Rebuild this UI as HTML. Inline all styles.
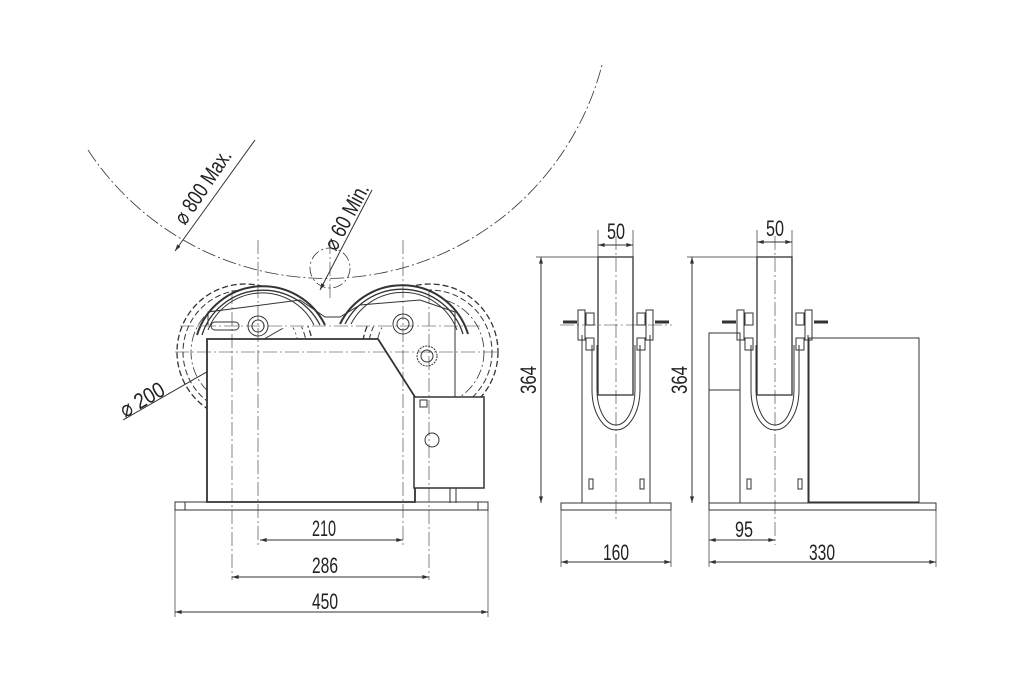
<!DOCTYPE html>
<html><head><meta charset="utf-8"><style>
html,body{margin:0;padding:0;background:#fff;}
svg{display:block}
text{font-family:"Liberation Sans",sans-serif;font-size:22px;fill:#222;}
</style></head><body>
<svg width="1024" height="683" viewBox="0 0 1024 683" xmlns="http://www.w3.org/2000/svg">
<defs>
<marker id="a" viewBox="0 0 10 6" refX="10" refY="3" markerWidth="8" markerHeight="4" orient="auto-start-reverse"><path d="M0,0L10,3L0,6z" fill="#333"/></marker>
</defs>
<g fill="none" stroke="#333" stroke-width="1">
<path d="M88,150 A285,285 0 0 0 602,65" stroke-dasharray="14,3,2,3" stroke-width="0.8"/>
<line x1="175" y1="251" x2="255" y2="140" marker-start="url(#a)"/>
<circle cx="330" cy="268" r="20" stroke-dasharray="10,3,2,3" stroke-width="0.8"/>
<line x1="320" y1="290" x2="372" y2="190" marker-start="url(#a)"/>
<line x1="123" y1="420" x2="292" y2="323"/>
<!-- dashed lower wheels -->
<circle cx="245" cy="352" r="68" stroke-dasharray="6,3" stroke-width="1.3"/>
<circle cx="245" cy="352" r="62" stroke-dasharray="6,3"/>
<circle cx="245" cy="352" r="54" stroke-dasharray="10,3,2,3" stroke-width="0.8"/>
<circle cx="430" cy="352" r="68" stroke-dasharray="6,3" stroke-width="1.3"/>
<circle cx="430" cy="352" r="62" stroke-dasharray="6,3"/>
<circle cx="430" cy="352" r="54" stroke-dasharray="10,3,2,3" stroke-width="0.8"/>
<!-- upper wheels -->
<path d="M197,335 A69,69 0 0 1 325,325" stroke-width="2" fill="#fff"/>
<path d="M202,335 A64,64 0 0 1 320,325" stroke-width="1.3"/>
<path d="M208,330 A58,58 0 0 1 314,325"/>
<path d="M340,324 A69,69 0 0 1 468,334" stroke-width="2" fill="#fff"/>
<path d="M345,324 A64,64 0 0 1 463,334" stroke-width="1.3"/>
<path d="M351,324 A58,58 0 0 1 457,330"/>
<path d="M208,325 L208,312 L300,300 L325,317 L340,317 L360,305 L420,300 L455,312 L455,470" />
<circle cx="258" cy="326" r="10"/><circle cx="258" cy="326" r="6"/>
<circle cx="403" cy="324" r="10"/><circle cx="403" cy="324" r="6"/>
<circle cx="427" cy="356" r="10" stroke-dasharray="2,1"/><circle cx="427" cy="356" r="6"/>
<path d="M215,322 h20 a4,4 0 0 1 0,8 h-20 a4,4 0 0 1 0,-8z"/>
<!-- body -->
<path d="M207,502 L207,339 L378,339 L415,397 L415,502z" stroke-width="1.8" fill="#fff"/>
<rect x="414" y="397" width="70" height="91" stroke-width="1.5" fill="#fff"/>
<circle cx="432" cy="440" r="7"/>
<rect x="420" y="400" width="7" height="7"/>
<line x1="450" y1="488" x2="450" y2="503"/><line x1="456" y1="488" x2="456" y2="503"/>
<rect x="175" y="502" width="313" height="8"/>
<line x1="185" y1="502" x2="185" y2="510"/><line x1="478" y1="502" x2="478" y2="510"/>
<g stroke-width="0.6" stroke-dasharray="14,3,2,3">
<line x1="258" y1="240" x2="258" y2="545"/>
<line x1="403" y1="240" x2="403" y2="545"/>
<line x1="232" y1="290" x2="232" y2="580"/>
<line x1="429" y1="290" x2="429" y2="580"/>
<line x1="180" y1="326" x2="480" y2="326"/>
<line x1="175" y1="352" x2="500" y2="352"/>
<line x1="330" y1="240" x2="330" y2="300"/>
</g>
<line x1="175" y1="510" x2="175" y2="617" stroke-width="0.7"/>
<line x1="488" y1="510" x2="488" y2="617" stroke-width="0.7"/>
<line x1="260" y1="540" x2="403" y2="540" marker-start="url(#a)" marker-end="url(#a)"/>
<line x1="232" y1="577" x2="429" y2="577" marker-start="url(#a)" marker-end="url(#a)"/>
<line x1="175" y1="612" x2="488" y2="612" marker-start="url(#a)" marker-end="url(#a)"/>

<!-- side view 1 -->
<rect x="561" y="503" width="110" height="7"/>
<line x1="582" y1="503" x2="582" y2="335"/><line x1="650" y1="503" x2="650" y2="335"/>
<rect x="598" y="257" width="35" height="138" stroke-width="1.3"/>
<path d="M592,345 L592,390 A24,40 0 0 0 640,390 L640,345"/>
<path d="M597,345 L597,390 A19,35 0 0 0 635,390 L635,345"/>
<path d="M563,322 h14 M655,322 h14" stroke-width="3"/>
<rect x="578" y="310" width="7" height="30"/><rect x="646" y="310" width="7" height="30"/>
<rect x="586" y="313" width="8" height="12"/><rect x="637" y="313" width="8" height="12"/>
<rect x="586" y="338" width="8" height="12"/><rect x="637" y="338" width="8" height="12"/>
<rect x="589" y="479" width="4" height="10"/><rect x="640" y="479" width="4" height="10"/>
<line x1="616" y1="236" x2="616" y2="520" stroke-width="0.6" stroke-dasharray="14,3,2,3"/>
<line x1="560" y1="325" x2="672" y2="325" stroke-width="0.6" stroke-dasharray="14,3,2,3"/>
<line x1="598" y1="230" x2="598" y2="257" stroke-width="0.7"/><line x1="633" y1="230" x2="633" y2="257" stroke-width="0.7"/>
<line x1="598" y1="245" x2="633" y2="245" marker-start="url(#a)" marker-end="url(#a)"/>
<line x1="536" y1="257" x2="598" y2="257" stroke-width="0.7"/>
<line x1="541" y1="257" x2="541" y2="503" marker-start="url(#a)" marker-end="url(#a)"/>
<line x1="561" y1="510" x2="561" y2="567" stroke-width="0.7"/><line x1="671" y1="510" x2="671" y2="567" stroke-width="0.7"/>
<line x1="561" y1="562" x2="671" y2="562" marker-start="url(#a)" marker-end="url(#a)"/>

<!-- side view 2 -->
<rect x="709" y="503" width="227" height="7"/>
<rect x="709" y="333" width="31" height="170"/>
<line x1="709" y1="390" x2="740" y2="390"/>
<line x1="740" y1="503" x2="740" y2="335"/><line x1="808" y1="503" x2="808" y2="335"/>
<rect x="809" y="338" width="110" height="164"/>
<rect x="757" y="257" width="35" height="138" stroke-width="1.3"/>
<path d="M751,345 L751,390 A24,40 0 0 0 799,390 L799,345"/>
<path d="M756,345 L756,390 A19,35 0 0 0 794,390 L794,345"/>
<path d="M722,322 h14 M814,322 h14" stroke-width="3"/>
<rect x="737" y="310" width="7" height="30"/><rect x="805" y="310" width="7" height="30"/>
<rect x="745" y="313" width="8" height="12"/><rect x="796" y="313" width="8" height="12"/>
<rect x="745" y="338" width="8" height="12"/><rect x="796" y="338" width="8" height="12"/>
<rect x="747" y="479" width="4" height="10"/><rect x="798" y="479" width="4" height="10"/>
<line x1="775" y1="236" x2="775" y2="545" stroke-width="0.6" stroke-dasharray="14,3,2,3"/>
<line x1="757" y1="230" x2="757" y2="257" stroke-width="0.7"/><line x1="792" y1="230" x2="792" y2="257" stroke-width="0.7"/>
<line x1="757" y1="242" x2="792" y2="242" marker-start="url(#a)" marker-end="url(#a)"/>
<line x1="687" y1="257" x2="757" y2="257" stroke-width="0.7"/>
<line x1="692" y1="257" x2="692" y2="503" marker-start="url(#a)" marker-end="url(#a)"/>
<line x1="709" y1="510" x2="709" y2="567" stroke-width="0.7"/><line x1="936" y1="510" x2="936" y2="567" stroke-width="0.7"/>
<line x1="709" y1="540" x2="775" y2="540" marker-start="url(#a)" marker-end="url(#a)"/>
<line x1="709" y1="562" x2="936" y2="562" marker-start="url(#a)" marker-end="url(#a)"/>
</g>
<g>
<text x="312" y="536" textLength="24" lengthAdjust="spacingAndGlyphs">210</text>
<text x="312" y="573" textLength="26" lengthAdjust="spacingAndGlyphs">286</text>
<text x="312" y="609" textLength="26" lengthAdjust="spacingAndGlyphs">450</text>
<text x="603" y="560" textLength="26" lengthAdjust="spacingAndGlyphs">160</text>
<text x="735" y="537" textLength="18" lengthAdjust="spacingAndGlyphs">95</text>
<text x="809" y="560" textLength="26" lengthAdjust="spacingAndGlyphs">330</text>
<text x="607" y="239" textLength="18" lengthAdjust="spacingAndGlyphs">50</text>
<text x="766" y="236" textLength="18" lengthAdjust="spacingAndGlyphs">50</text>
<text transform="translate(536,394) rotate(-90)" textLength="28" lengthAdjust="spacingAndGlyphs">364</text>
<text transform="translate(687,394) rotate(-90)" textLength="28" lengthAdjust="spacingAndGlyphs">364</text>
<text transform="translate(185,226) rotate(-56)" textLength="85" lengthAdjust="spacingAndGlyphs">⌀ 800 Max.</text>
<text transform="translate(336,252) rotate(-62)" textLength="72" lengthAdjust="spacingAndGlyphs">⌀ 60 Min.</text>
<text transform="translate(125,418) rotate(-30)" textLength="48" lengthAdjust="spacingAndGlyphs">⌀ 200</text>
</g>
</svg>
</body></html>
